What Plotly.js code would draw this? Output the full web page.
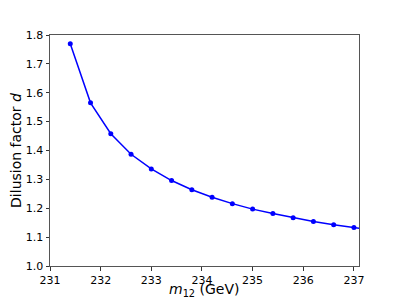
<!DOCTYPE html>
<html>
<head>
<script src="https://cdn.plot.ly/plotly-3.0.1.min.js"></script>
<style>html,body{margin:0;padding:0;background:#fff;}#chart{width:399px;height:299px;}</style>
</head>
<body>
<div id="chart"></div>
<script>
var massValues = [231.4, 231.8, 232.2, 232.6, 233.0, 233.4, 233.8, 234.2, 234.6, 235.0, 235.4, 235.8, 236.2, 236.6, 237.0, 237.4];
var dilutionValues = [1.770, 1.565, 1.458, 1.387, 1.336, 1.296, 1.264, 1.238, 1.216, 1.197, 1.182, 1.167, 1.154, 1.143, 1.133, 1.124];
var xTicks = [231, 232, 233, 234, 235, 236, 237];
var yTicks = [1.0, 1.1, 1.2, 1.3, 1.4, 1.5, 1.6, 1.7, 1.8];

var trace = {
  x: massValues, y: dilutionValues,
  mode: 'lines+markers', type: 'scatter',
  line: {color: '#0000ff', width: 1.5},
  marker: {color: '#0000ff', size: 5},
  cliponaxis: true
};
var fam = 'DejaVu Sans, sans-serif';
var layout = {
  width: 399, height: 299,
  margin: {l: 50, r: 40, t: 35, b: 33},
  paper_bgcolor: '#fff', plot_bgcolor: '#fff',
  showlegend: false,
  font: {family: fam, size: 11, color: '#000'},
  xaxis: {
    range: [231, 237.1], tickvals: xTicks, ticktext: xTicks.map(String),
    showgrid: false, zeroline: false, showline: true, mirror: true,
    linecolor: '#555', linewidth: 1, ticks: 'outside', ticklen: 3.5, tickcolor: '#333',
    tickfont: {family: fam, size: 11, color: '#000'}
  },
  yaxis: {
    range: [1.0, 1.8], tickvals: yTicks, ticktext: yTicks.map(function(v){return v.toFixed(1);}),
    showgrid: false, zeroline: false, showline: true, mirror: true,
    linecolor: '#555', linewidth: 1, ticks: 'outside', ticklen: 3.5, tickcolor: '#333',
    tickfont: {family: fam, size: 11, color: '#000'},
    title: {text: 'Dilusion factor <i>d</i>', font: {family: fam, size: 14, color: '#000'}, standoff: 0}
  },
  annotations: [{
    text: '<i>m</i><sub>12</sub> (GeV)', xref: 'paper', yref: 'paper',
    x: 0.5, y: -0.106, xanchor: 'center', yanchor: 'middle', showarrow: false,
    font: {family: fam, size: 14, color: '#000'}, borderpad: 0
  }]
};
Plotly.newPlot('chart', [trace], layout, {staticPlot: true, displayModeBar: false});
</script>
</body>
</html>
